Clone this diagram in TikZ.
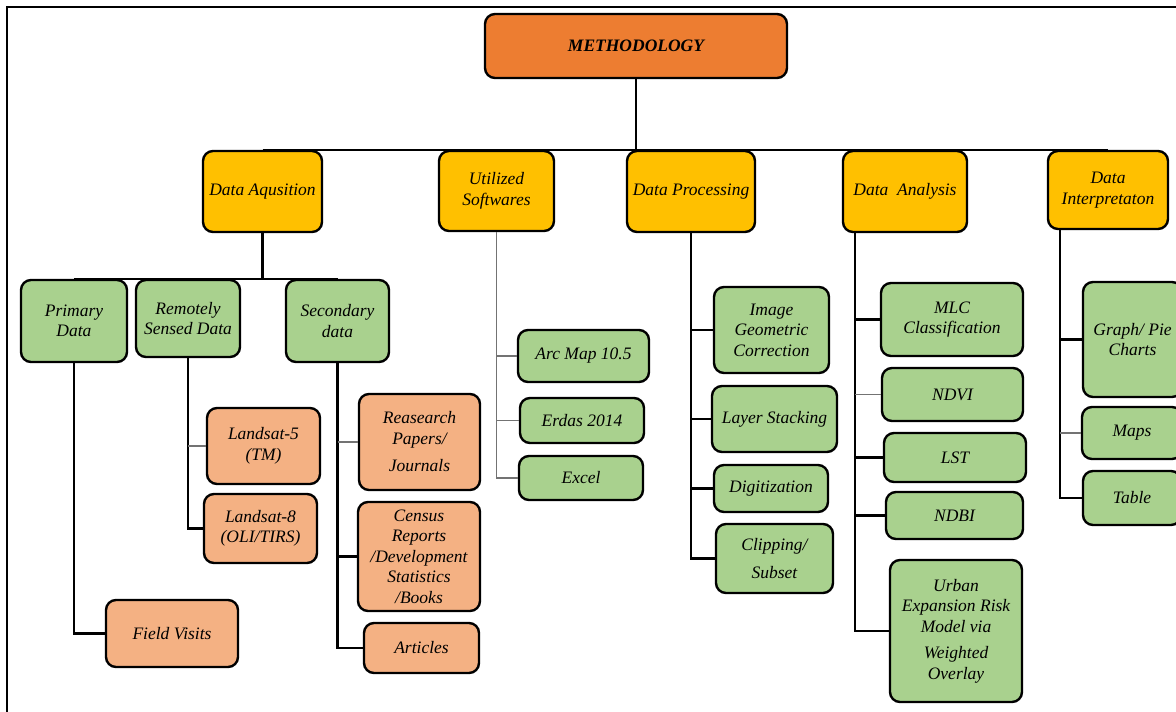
\documentclass[tikz,border=0pt]{standalone}
\usepackage{fontspec}
\setmainfont{Liberation Serif}
\definecolor{morange}{HTML}{ED7D31}
\definecolor{myellow}{HTML}{FFC000}
\definecolor{mgreen}{HTML}{A9D18E}
\definecolor{mpeach}{HTML}{F4B183}
\newcommand\bx[8][]{\node[box,fill=#3,minimum width={#6-#4},minimum height={#7-#5},#1] (#2) at ({(#4+#6)/2},{(#5+#7)/2}) {#8};}
\begin{document}
\begin{tikzpicture}[x=1pt,y=-1pt,
  box/.style={draw=black,line width=2.4pt,rounded corners=10pt,inner sep=1pt,align=center,
    font=\fontsize{17.5}{20.5}\selectfont\itshape},
  conn/.style={draw=black,line width=2.4pt},
  gline/.style={draw=black!55,line width=1.8pt}]
\useasboundingbox (0,0) rectangle (1176,712);
\clip (0,0) rectangle (1176,712);
\fill[white] (0,0) rectangle (1176,712);
\draw[line width=1.6pt] (7,712) -- (7,7) -- (1176,7);
% top
\bx[font=\fontsize{17.5}{20.5}\selectfont\bfseries\itshape]{meth}{morange}{485}{14}{787}{78}{METHODOLOGY}
% level 1
\bx{acq}{myellow}{203}{151}{322}{232}{Data Aqusition}
\bx{soft}{myellow}{439}{151}{554}{231}{Utilized\\Softwares}
\bx{proc}{myellow}{627}{151}{755}{232}{Data Processing}
\bx{ana}{myellow}{843}{151}{967}{232}{Data\ \ Analysis}
\bx{interp}{myellow}{1048}{151}{1168}{229}{Data\\Interpretaton}
% level 2 (acquisition)
\bx{prim}{mgreen}{21}{280}{127}{362}{Primary\\Data}
\bx{rs}{mgreen}{136}{280}{240}{357}{Remotely\\Sensed Data}
\bx{sec}{mgreen}{286}{280}{389}{362}{Secondary\\data}
\bx{field}{mpeach}{106}{600}{238}{667}{Field Visits}
\bx{lfive}{mpeach}{207}{408}{320}{484}{Landsat-5\\(TM)}
\bx{leight}{mpeach}{204}{494}{317}{563}{Landsat-8\\(OLI/TIRS)}
\bx{res}{mpeach}{359}{394}{480}{490}{Reasearch\\Papers/\\[7pt]Journals}
\bx{cen}{mpeach}{358}{502}{480}{611}{Census\\Reports\\/Development\\Statistics\\/Books}
\bx{art}{mpeach}{364}{623}{479}{673}{Articles}
% software
\bx{arc}{mgreen}{518}{330}{649}{382}{Arc Map 10.5}
\bx{erd}{mgreen}{520}{398}{644}{443}{Erdas 2014}
\bx{exc}{mgreen}{519}{456}{643}{500}{Excel}
% processing
\bx{img}{mgreen}{714}{287}{829}{373}{Image\\Geometric\\Correction}
\bx{lay}{mgreen}{712}{386}{837}{452}{Layer Stacking}
\bx{dig}{mgreen}{714}{465}{828}{512}{Digitization}
\bx{clp}{mgreen}{716}{524}{833}{593}{Clipping/\\[7pt]Subset}
% analysis
\bx{mlc}{mgreen}{881}{283}{1023}{356}{MLC\\Classification}
\bx{ndvi}{mgreen}{882}{368}{1023}{421}{NDVI}
\bx{lst}{mgreen}{884}{433}{1026}{482}{LST}
\bx{ndbi}{mgreen}{886}{492}{1023}{539}{NDBI}
\bx{urb}{mgreen}{890}{560}{1022}{702}{Urban\\Expansion Risk\\Model via\\[6pt]Weighted\\Overlay}
% interpretation
\bx{graph}{mgreen}{1083}{282}{1182}{397}{Graph/ Pie\\Charts}
\bx{maps}{mgreen}{1082}{407}{1182}{459}{Maps}
\bx{tab}{mgreen}{1083}{471}{1181}{525}{Table}
% connectors
\draw[conn] (meth.south) -- (meth.south |- acq.north);
\draw[conn] (acq.north) -- (interp.north);
\path (acq.south) ++(0,46) coordinate (btwo);
\draw[conn] (acq.south) -- (btwo);
\draw[conn] (prim.north |- btwo) -- (sec.north |- btwo);
\draw[conn] (prim.south) |- (field.west);
\draw[conn] (rs.south) |- (leight.west);
\draw[gline] (rs.south |- lfive.west) -- (lfive.west);
\draw[conn] (sec.south) |- (art.west);
\draw[gline] (sec.south |- res.west) -- (res.west);
\draw[conn] (sec.south |- cen.west) -- (cen.west);
\draw[gline] (soft.south) |- (exc.west);
\draw[gline] (soft.south |- arc.west) -- (arc.west);
\draw[gline] (soft.south |- erd.west) -- (erd.west);
\draw[conn] (proc.south) |- (clp.west);
\draw[conn] (proc.south |- img.west) -- (img.west);
\draw[conn] (proc.south |- lay.west) -- (lay.west);
\draw[conn] (proc.south |- dig.west) -- (dig.west);
\coordinate (ab) at ([xshift=13pt]ana.south west);
\draw[conn] (ab) |- (urb.west);
\draw[conn] (ab |- mlc.west) -- (mlc.west);
\draw[gline] (ab |- ndvi.west) -- (ndvi.west);
\draw[conn] (ab |- lst.west) -- (lst.west);
\draw[conn] (ab |- ndbi.west) -- (ndbi.west);
\coordinate (ib) at ([xshift=13pt]interp.south west);
\draw[conn] (ib) |- (tab.west);
\draw[conn] (ib |- graph.west) -- (graph.west);
\draw[gline] (ib |- maps.west) -- (maps.west);
\end{tikzpicture}
\end{document}
